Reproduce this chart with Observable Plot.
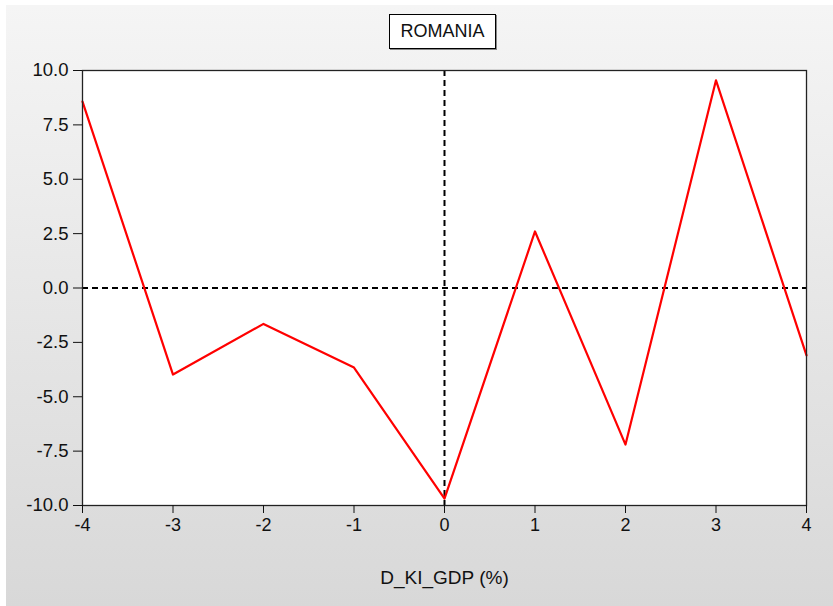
<!DOCTYPE html>
<html>
<head>
<meta charset="utf-8">
<script src="https://cdn.jsdelivr.net/npm/d3@7"></script>
<script src="https://cdn.jsdelivr.net/npm/@observablehq/plot@0.6"></script>
<style>
  html, body { margin: 0; padding: 0; background: #ffffff; width: 833px; height: 606px; overflow: hidden; }
  #bg { position: absolute; left: 6px; top: 5px; width: 827px; height: 601px;
        background: linear-gradient(#f5f5f5, #d8d8d8); }
  #chart { position: absolute; left: 0; top: 0; }
  #title { position: absolute; left: 389px; top: 14px; width: 105px; height: 33px;
           border: 1px solid #000; background: #fff; box-shadow: 1px 1px 0 #888;
           font-family: "Liberation Sans", Arial, sans-serif; font-size: 18px;
           line-height: 33px; text-align: center; color: #111; }
</style>
</head>
<body>
<div id="bg"></div>
<div id="chart"></div>
<div id="title"></div>
<script>
const titleText = "ROMANIA";
const xLabel = "D_KI_GDP (%)";
const xValues = [-4, -3, -2, -1, 0, 1, 2, 3, 4];
const yValues = [8.57, -3.98, -1.65, -3.66, -9.68, 2.6, -7.2, 9.55, -3.1];
const xTicks = [-4, -3, -2, -1, 0, 1, 2, 3, 4];
const yTicks = [-10, -7.5, -5, -2.5, 0, 2.5, 5, 7.5, 10];

const data = xValues.map((x, i) => ({x, y: yValues[i]}));

const chart = Plot.plot({
  width: 833,
  height: 606,
  marginLeft: 82,
  marginRight: 27,
  marginTop: 70,
  marginBottom: 101,
  style: { background: "transparent", fontFamily: "'Liberation Sans', Arial, sans-serif", fontSize: "18px", color: "#111" },
  x: { domain: [-4, 4] },
  y: { domain: [-10, 10] },
  marks: [
    Plot.frame({ fill: "white", stroke: "none" }),
    Plot.ruleX([0], { stroke: "black", strokeWidth: 2, strokeDasharray: "6,4" }),
    Plot.ruleY([0], { stroke: "black", strokeWidth: 2, strokeDasharray: "6,4" }),
    Plot.line(data, { x: "x", y: "y", stroke: "#ff0000", strokeWidth: 2.2 }),
    Plot.frame({ stroke: "#222", strokeWidth: 1.3 }),
    Plot.axisX({ ticks: xTicks, tickSize: 8, tickPadding: 5, label: null, tickFormat: d => String(d), fontSize: 18 }),
    Plot.axisY({ ticks: yTicks, tickSize: 9, tickPadding: 5, label: null, tickFormat: d => d.toFixed(1), fontSize: 18.5 }),
    Plot.text([xLabel], { frameAnchor: "bottom", dy: 72, lineAnchor: "middle", fontSize: 19, fill: "#111" })
  ]
});
document.getElementById("chart").appendChild(chart);
document.getElementById("title").textContent = titleText;
</script>
</body>
</html>
